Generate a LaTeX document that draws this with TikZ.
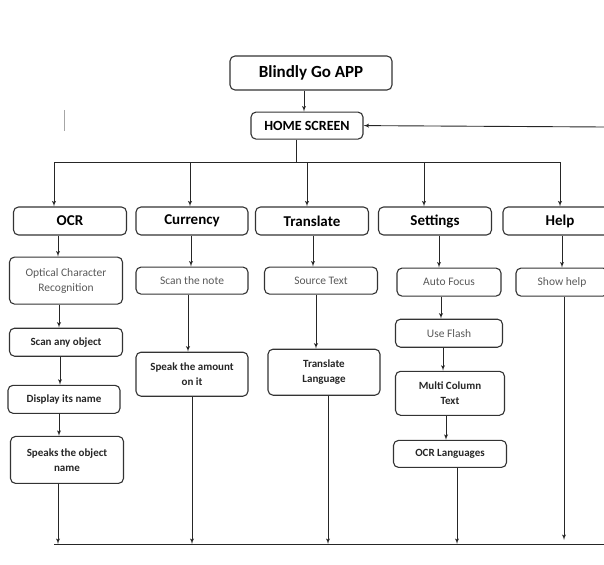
\documentclass[tikz,border=0pt]{standalone}
\usepackage{fontspec}
\setmainfont{Carlito}
\usetikzlibrary{shapes,arrows}
\usetikzlibrary{positioning}

\begin{document}
\begin{tikzpicture}[x=1pt,y=-1pt,
block/.style={rectangle,draw=black!80,line width=1.1pt,text centered,rounded corners=5pt,minimum width=113pt,minimum height=28pt,inner sep=2pt,font=\bfseries\fontsize{15}{17}\selectfont},
sblock/.style={block,align=center,font=\fontsize{11.5}{15}\selectfont,text=black!65},
bsblock/.style={sblock,font=\bfseries\fontsize{11}{15}\selectfont,text=black!85},
line/.style={draw=black!85,line width=0.9pt,-latex'}]

\useasboundingbox (0,0) rectangle (604,564);
\clip (0,0) rectangle (604,564);

\node [block, minimum width=162pt, minimum height=34pt, font=\bfseries\fontsize{17}{20}\selectfont] (app) at (311,73) {Blindly Go APP};
\node [block, below=21pt of app, xshift=-4pt, minimum width=112pt, minimum height=27pt, font=\bfseries\fontsize{14}{16}\selectfont] (home) {HOME SCREEN};

\node [block] (ocr) at (70,221) {OCR};
\node [block, minimum width=112pt] (cur) at (192,221) {Currency};
\node [block] (tra) at (312,221) {Translate};
\node [block] (set) at (435,221) {Settings};
\node [block, minimum width=114pt] (help) at (560,221) {Help};

\node [sblock, below=21pt of ocr, xshift=-4pt, minimum height=47pt] (ocr1) {Optical Character\\Recognition};
\node [bsblock, below=23pt of ocr1] (ocr2) {Scan any object};
\node [bsblock, below=28pt of ocr2, xshift=-2pt, minimum width=112pt] (ocr3) {Display its name};
\node [bsblock, below=22pt of ocr3, xshift=3pt, minimum height=47pt] (ocr4) {Speaks the object\\name};

\node [sblock, below=31pt of cur, minimum width=112pt, minimum height=27pt] (cur1) {Scan the note};
\node [bsblock, below=57pt of cur1, minimum width=112pt, minimum height=44pt] (cur2) {Speak the amount\\on it};

\node [sblock, below=31pt of tra, xshift=9pt, minimum height=27pt] (tra1) {Source Text};
\node [bsblock, below=54pt of tra1, xshift=3pt, minimum width=112pt, minimum height=46pt] (tra2) {Translate\\Language};

\node [sblock, below=32pt of set, xshift=14pt, minimum width=104pt] (set1) {Auto Focus};
\node [sblock, below=22pt of set1, minimum width=107pt] (set2) {Use Flash};
\node [bsblock, below=23pt of set2, xshift=1pt, minimum width=109pt, minimum height=44pt] (set3) {Multi Column\\Text};
\node [bsblock, below=24pt of set3, minimum height=27pt] (set4) {OCR Languages};

\node [sblock, below=32pt of help, xshift=2pt, minimum width=92pt] (help1) {Show help};

\coordinate (bustop) at (0,162);
\coordinate (busbot) at (0,544);
\coordinate (ret) at (604,127);

% top part
\path [line] ([xshift=-7pt]app.south) -- ([xshift=-3pt]home.north);
\draw [draw=black!85,line width=0.9pt] ([xshift=-11pt]home.south) -- ([xshift=-11pt]home.south |- bustop);
\draw [draw=black!85,line width=0.9pt] ([xshift=-16pt]ocr.north |- bustop) -- (help.north |- bustop);
\path [line] (ret) -- (home.east);

\path [line] ([xshift=-16pt]ocr.north |- bustop) -- ([xshift=-16pt]ocr.north);
\path [line] ([xshift=-2pt]cur.north |- bustop) -- ([xshift=-2pt]cur.north);
\path [line] ([xshift=-5pt]tra.north |- bustop) -- ([xshift=-5pt]tra.north);
\path [line] ([xshift=-11pt]set.north |- bustop) -- ([xshift=-11pt]set.north);
\path [line] (help.north |- bustop) -- (help.north);

% columns
\path [line] ([xshift=-12pt]ocr.south) -- ([xshift=-8pt]ocr1.north);
\path [line] ([xshift=-7pt]ocr1.south) -- ([xshift=-7pt]ocr2.north);
\path [line] ([xshift=-6pt]ocr2.south) -- ([xshift=-4pt]ocr3.north);
\path [line] ([xshift=-5pt]ocr3.south) -- ([xshift=-8pt]ocr4.north);

\path [line] ([xshift=-1pt]cur.south) -- ([xshift=-1pt]cur1.north);
\path [line] ([xshift=-4pt]cur1.south) -- ([xshift=-4pt]cur2.north);

\path [line] ([xshift=1pt]tra.south) -- ([xshift=-8pt]tra1.north);
\path [line] ([xshift=-5pt]tra1.south) -- ([xshift=-8pt]tra2.north);

\path [line] ([xshift=4pt]set.south) -- ([xshift=-10pt]set1.north);
\path [line] ([xshift=-8pt]set1.south) -- ([xshift=-8pt]set2.north);
\path [line] ([xshift=-6pt]set2.south) -- ([xshift=-7pt]set3.north);
\path [line] ([xshift=-4pt]set3.south) -- ([xshift=-4pt]set4.north);

\path [line] ([xshift=2pt]help.south) -- (help1.north);

% bottom bus
\path [line] ([xshift=-9pt]ocr4.south) -- ([xshift=-9pt]ocr4.south |- busbot);
\path [line] (cur2.south) -- (cur2.south |- busbot);
\path [line] ([xshift=4pt]tra2.south) -- ([xshift=4pt]tra2.south |- busbot);
\path [line] ([xshift=7pt]set4.south) -- ([xshift=7pt]set4.south |- busbot);
\path [line] ([xshift=2pt]help1.south) -- ([xshift=2pt,yshift=4pt]help1.south |- busbot);
\draw [draw=black!85,line width=0.9pt] ([xshift=-13pt]ocr4.south |- busbot) -- (ret |- busbot);

\draw [black!35,line width=0.6pt] (64,110) -- (64,131);
\end{tikzpicture}
\end{document}
